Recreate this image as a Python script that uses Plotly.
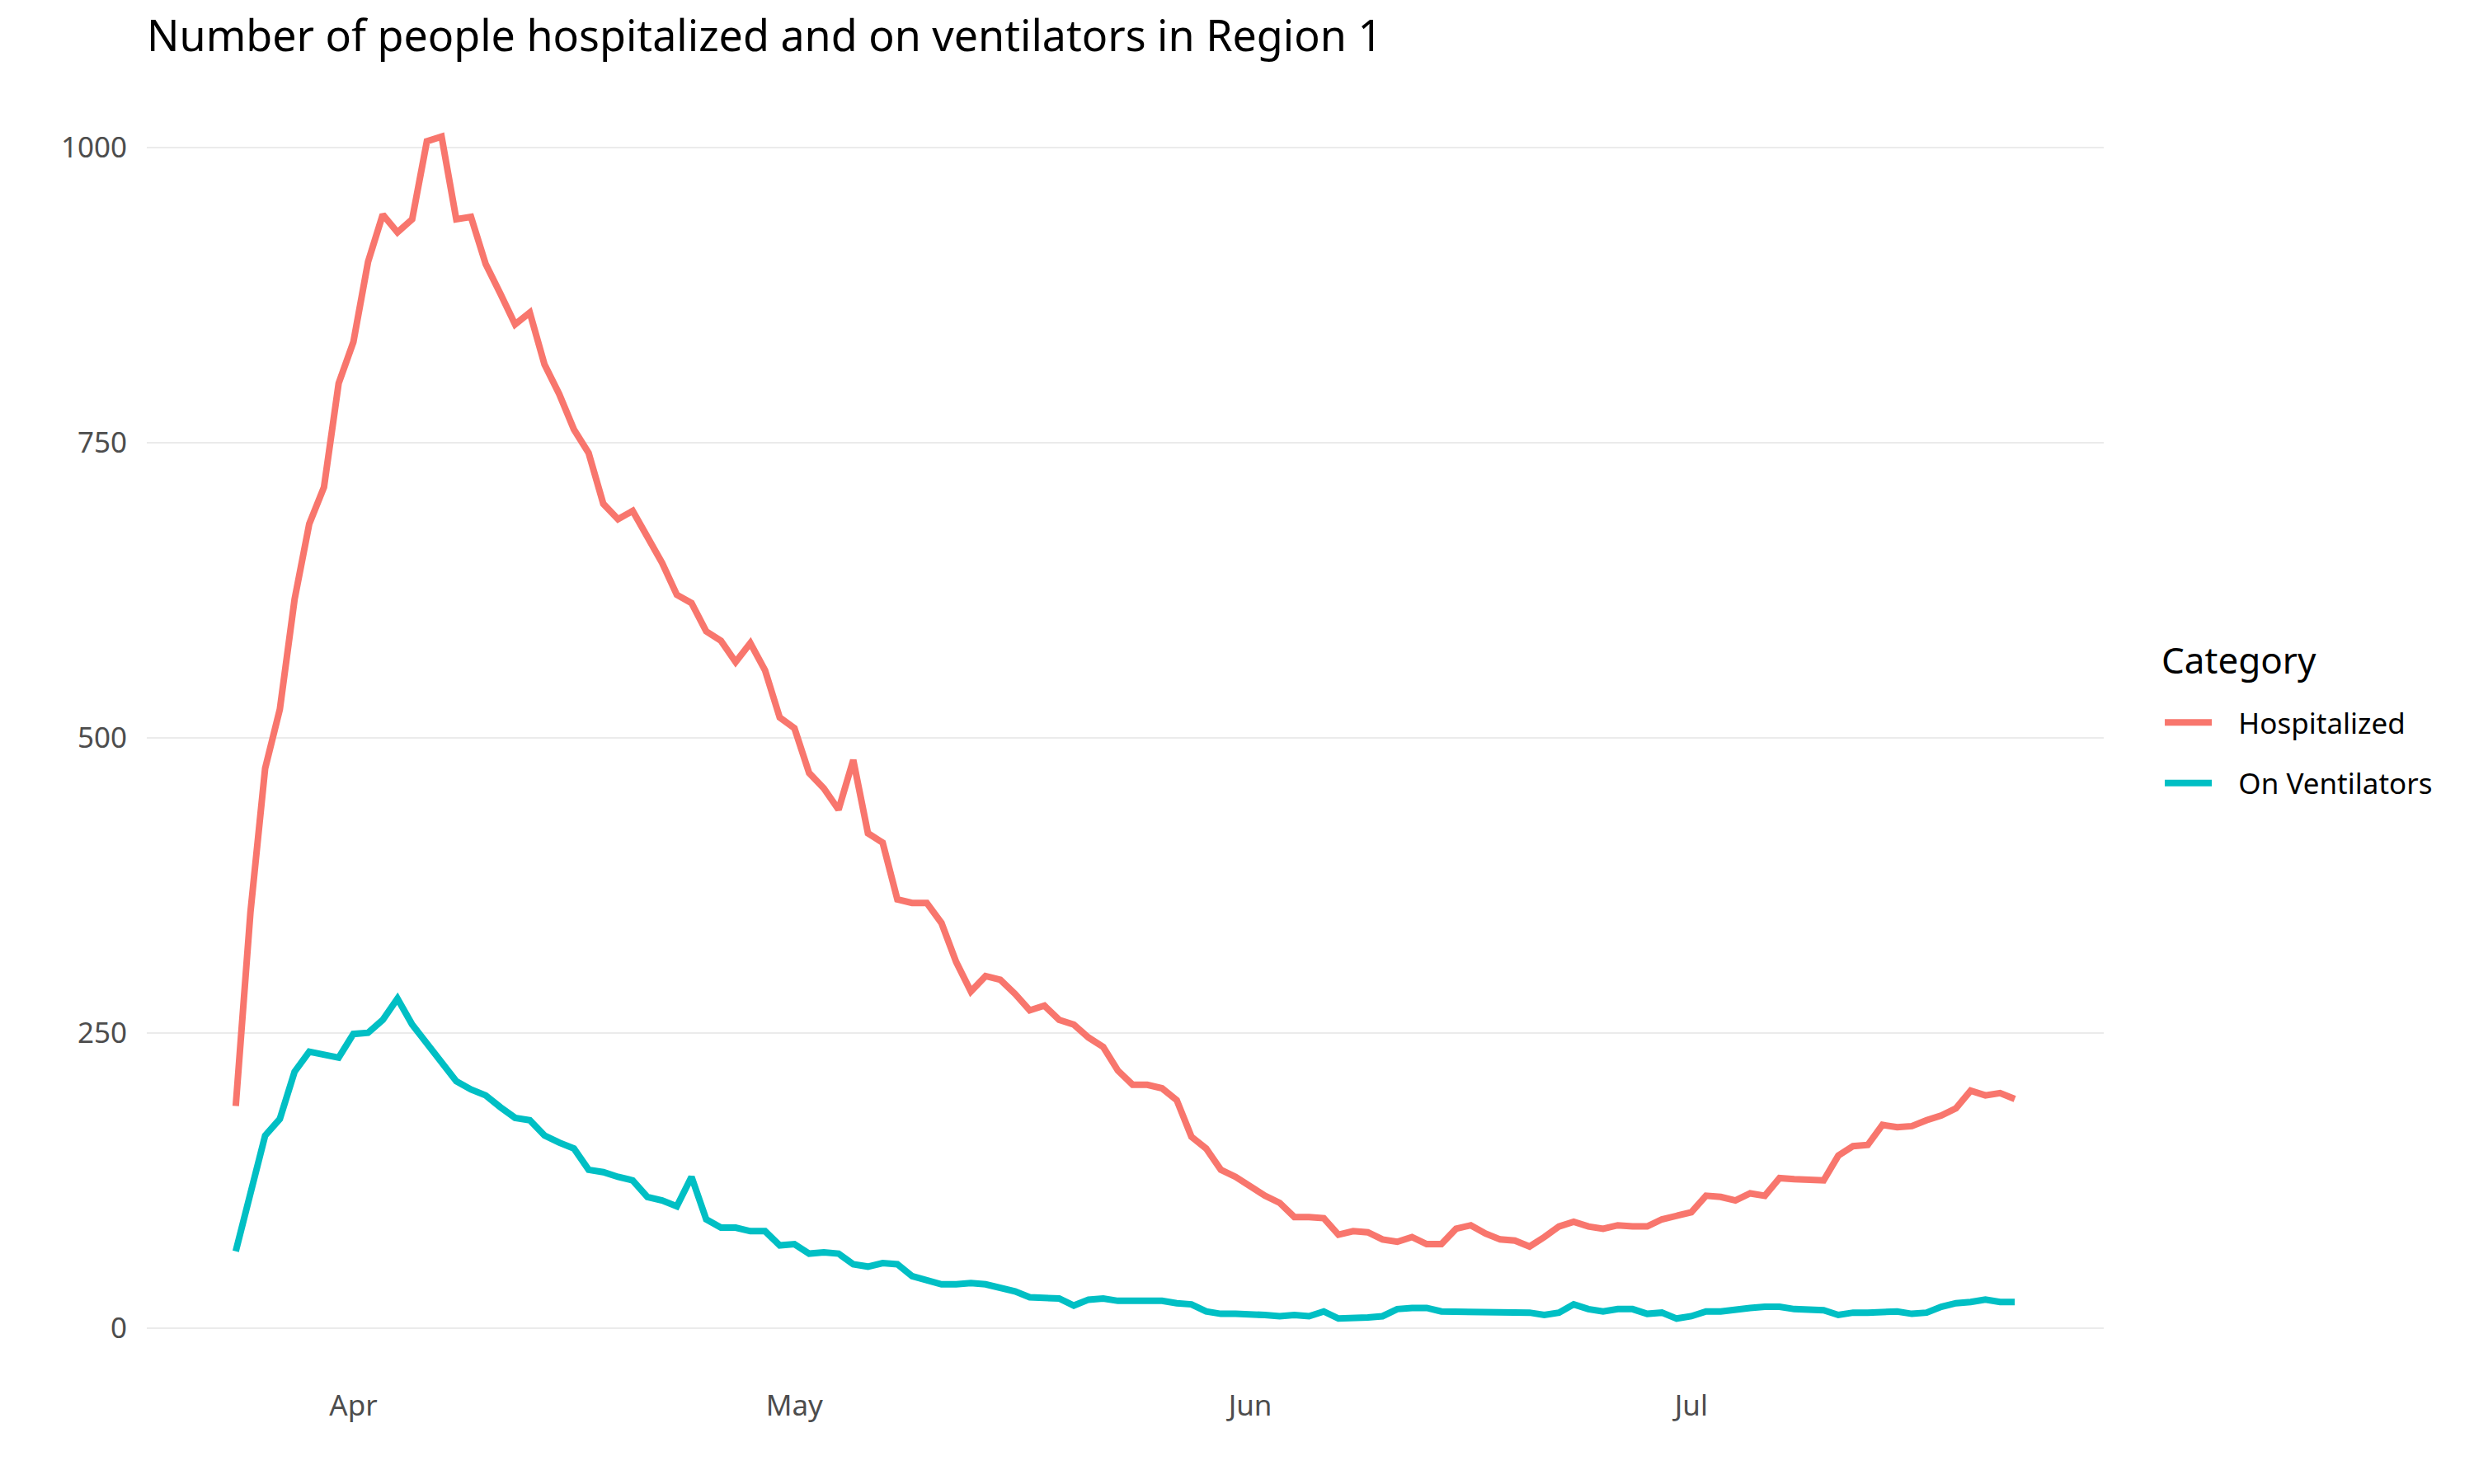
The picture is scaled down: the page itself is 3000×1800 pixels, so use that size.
import pandas as pd
import plotly.graph_objects as go

start_date = "2020-03-24"
n_days = 122
dates = pd.date_range(start_date, periods=n_days, freq="D")

hospitalized = [
    188, 352, 474, 524, 617, 681, 712, 800,
    835, 903, 943, 928, 939, 1005, 1009, 939, 941, 901, 876, 850, 860, 816, 791, 761,
    741, 698, 685, 692, 670, 648, 621, 614, 590, 582, 564, 580, 557, 517,
    508, 470, 457, 439, 481, 419, 411, 363, 360, 360, 343, 310, 285, 298, 295, 283,
    269, 273, 261, 257, 246, 238, 218, 206, 206, 203, 193, 162, 152, 134, 128,
    120, 112, 106, 94, 94, 93, 79, 82, 81, 75, 73, 77, 71, 71, 84, 87, 80, 75, 74,
    69, 77, 86, 90, 86, 84, 87, 86, 86, 92, 95,
    98, 112, 111, 108, 114, 112, 127, 126, 126, 125, 146, 154, 155, 172, 170, 171,
    176, 180, 186, 201, 197, 199, 194,
]

ventilators = [
    65, 112, 163, 177, 217, 234, 231, 229,
    249, 250, 261, 279, 257, 241, 226, 209, 202, 197, 187, 178, 176, 163, 157, 152,
    134, 132, 128, 125, 111, 108, 103, 128, 92, 85, 85, 82, 82, 70,
    71, 63, 64, 63, 54, 52, 55, 54, 44, 40, 37, 37, 38, 37, 34, 31,
    26, 25, 25, 19, 24, 25, 23, 23, 23, 23, 21, 20, 14, 12, 12,
    12, 11, 10, 11, 10, 14, 8, 8, 9, 10, 16, 17, 17, 14, 14, 14, 14, 14, 14,
    13, 11, 13, 20, 16, 14, 16, 16, 12, 13, 8,
    10, 14, 14, 16, 17, 18, 18, 16, 16, 15, 11, 13, 13, 14, 14, 12,
    13, 18, 21, 22, 24, 22, 22,
]

series_names = ["Hospitalized", "On Ventilators"]
series_colors = ["#F8766D", "#00BFC4"]
tick_dates = ["2020-04-01", "2020-05-01", "2020-06-01", "2020-07-01"]
tick_labels = ["Apr", "May", "Jun", "Jul"]
y_ticks = [0, 250, 500, 750, 1000]

FONT = "Noto Sans"
NBSP = "\u00a0"

fig = go.Figure()
for name, vals, col in zip(series_names, [hospitalized, ventilators], series_colors):
    fig.add_trace(go.Scatter(x=dates, y=vals, mode="lines", name=NBSP * 3 + name,
                             legendgroup=name,
                             line=dict(color=col, width=8)))

span = dates[-1] - dates[0]
pad = span * 0.05
ymin = min(min(hospitalized), min(ventilators))
ymax = max(max(hospitalized), max(ventilators))
ypad = (ymax - ymin) * 0.05

fig.update_layout(
    width=3000, height=1800,
    margin=dict(l=170, r=457, t=86, b=137),
    paper_bgcolor="white", plot_bgcolor="white",
    font=dict(family=FONT, color="black"),
    title=dict(text="Number of people hospitalized and on ventilators in Region 1",
               x=170 / 3000, xanchor="left", y=1 - 36 / 1800, yanchor="middle",
               font=dict(size=52, family=FONT, color="black")),
    xaxis=dict(range=[dates[0] - pad, dates[-1] + pad], tickvals=tick_dates,
               ticktext=tick_labels, showgrid=False, zeroline=False, showline=False,
               ticks="", tickfont=dict(size=35, color="#4D4D4D"),
               ticklabelstandoff=10),
    yaxis=dict(range=[ymin - ypad, ymax + ypad], tickvals=y_ticks, showgrid=True,
               gridcolor="#EBEBEB", gridwidth=2, zeroline=False, showline=False,
               ticks="", tickfont=dict(size=35, color="#4D4D4D"),
               ticklabelstandoff=23),
    legend=dict(font=dict(size=35, color="black"), x=1.0291, xanchor="left",
                y=0.5225, yanchor="top", bgcolor="rgba(0,0,0,0)",
                tracegroupgap=25, itemwidth=57),
    annotations=[dict(text="Category", xref="paper", yref="paper", x=1.0286, y=0.5523,
                      xanchor="left", yanchor="middle", showarrow=False,
                      font=dict(size=44, color="black", family=FONT))],
    showlegend=True,
)

fig.write_html("out.html")
